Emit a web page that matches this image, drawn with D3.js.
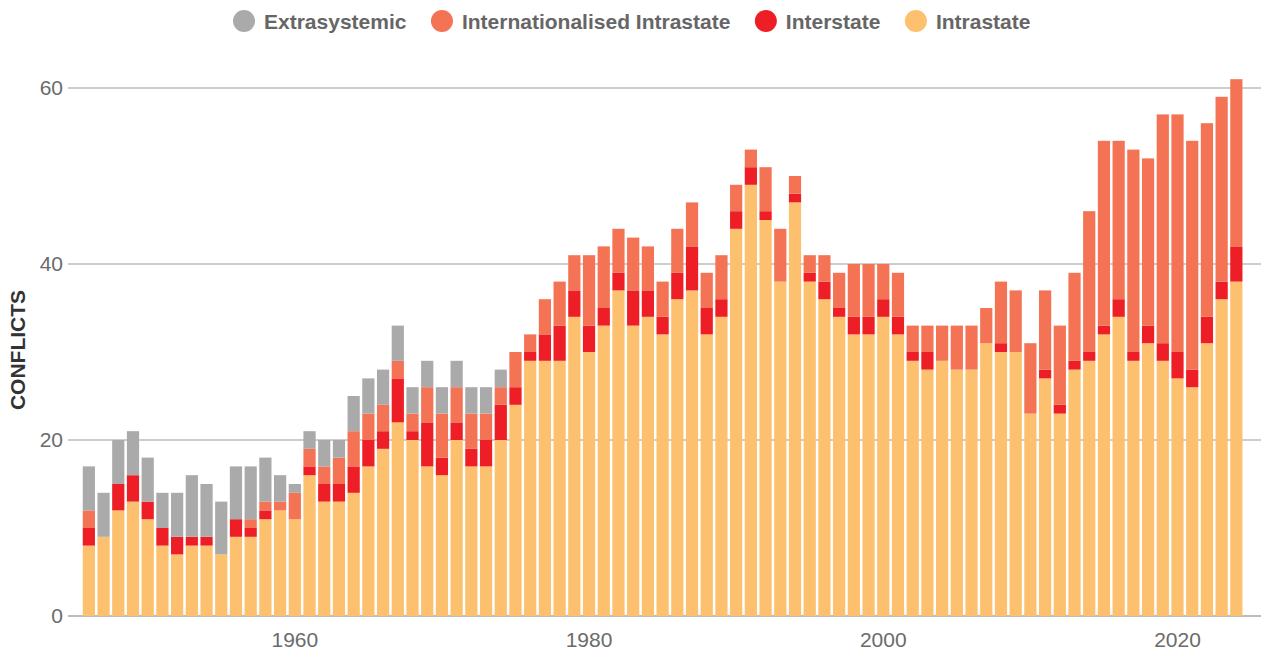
<!DOCTYPE html>
<html>
<head>
<meta charset="utf-8">
<script src="https://cdn.jsdelivr.net/npm/d3@7/dist/d3.min.js"></script>
<style>
  html, body { margin: 0; padding: 0; background: #fff; }
  svg { display: block; font-family: "Liberation Sans", Arial, Helvetica, sans-serif; }
</style>
</head>
<body>
<svg id="chart" width="1261" height="650"></svg>
<script>
// Armed conflicts per year by type, 1946–2024
const years = d3.range(1946, 2025);

const intrastate = [
  8, 9, 12, 13, 11, 8, 7, 8, 8, 7, 9, 9, 11, 12, 11,
  16, 13, 13, 14, 17, 19, 22, 20, 17, 16, 20, 17, 17, 20, 24,
  29, 29, 29, 34, 30, 33, 37, 33, 34, 32, 36, 37, 32, 34, 44,
  49, 45, 38, 47, 38, 36, 34, 32, 32, 34, 32, 29, 28, 29, 28,
  28, 31, 30, 30, 23, 27, 23, 28, 29, 32, 34, 29, 31, 29, 27,
  26, 31, 36, 38
];

const interstate = [
  2, 0, 3, 3, 2, 2, 2, 1, 1, 0, 2, 1, 1, 0, 0,
  1, 2, 2, 3, 3, 2, 5, 1, 5, 2, 2, 2, 3, 4, 2,
  1, 3, 4, 3, 3, 2, 2, 4, 3, 2, 3, 5, 3, 2, 2,
  2, 1, 0, 1, 1, 2, 1, 2, 2, 2, 2, 1, 2, 0, 0,
  0, 0, 1, 0, 0, 1, 1, 1, 1, 1, 2, 1, 2, 2, 3,
  2, 3, 2, 4
];

const internationalised = [
  2, 0, 0, 0, 0, 0, 0, 0, 0, 0, 0, 1, 1, 1, 3,
  2, 2, 3, 4, 3, 3, 2, 2, 4, 5, 4, 4, 3, 2, 4,
  2, 4, 5, 4, 8, 7, 5, 6, 5, 4, 5, 5, 4, 5, 3,
  2, 5, 6, 2, 2, 3, 4, 6, 6, 4, 5, 3, 3, 4, 5,
  5, 4, 7, 7, 8, 9, 9, 10, 16, 21, 18, 23, 19, 26, 27,
  26, 22, 21, 19
];

const extrasystemic = [
  5, 5, 5, 5, 5, 4, 5, 7, 6, 6, 6, 6, 5, 3, 1,
  2, 3, 2, 4, 4, 4, 4, 3, 3, 3, 3, 3, 3, 2, 0,
  0, 0, 0, 0, 0, 0, 0, 0, 0, 0, 0, 0, 0, 0, 0,
  0, 0, 0, 0, 0, 0, 0, 0, 0, 0, 0, 0, 0, 0, 0,
  0, 0, 0, 0, 0, 0, 0, 0, 0, 0, 0, 0, 0, 0, 0,
  0, 0, 0, 0
];

const yTicks = [0, 20, 40, 60];
const xTicks = [1960, 1980, 2000, 2020];

// Series in stacking order, bottom to top
const series = [
  { key: "Intrastate", values: intrastate, color: "#fcc06e" },
  { key: "Interstate", values: interstate, color: "#ed1e25" },
  { key: "Internationalised Intrastate", values: internationalised, color: "#f37354" },
  { key: "Extrasystemic", values: extrasystemic, color: "#aaaaaa" }
];
const legendOrder = ["Extrasystemic", "Internationalised Intrastate", "Interstate", "Intrastate"];

const table = years.map((yr, i) => {
  const row = { year: yr };
  series.forEach(s => { row[s.key] = s.values[i]; });
  return row;
});

const svg = d3.select("#chart");
const plotLeft = 68, plotRight = 1261;

const x = d3.scaleBand()
  .domain(years)
  .range([81.5, 1243.7])
  .paddingInner(0.17)
  .paddingOuter(0.085);

const y = d3.scaleLinear().domain([0, 60]).range([616, 88]);

// Horizontal gridlines
svg.append("g")
  .selectAll("line")
  .data(yTicks)
  .join("line")
  .attr("x1", plotLeft).attr("x2", plotRight)
  .attr("y1", d => y(d)).attr("y2", d => y(d))
  .attr("stroke", d => d === 0 ? "#a6a6a6" : "#bcbcbc")
  .attr("stroke-width", 1.4);

// Stacked bars
const stack = d3.stack().keys(series.map(s => s.key));
const stacked = stack(table);
const colorOf = Object.fromEntries(series.map(s => [s.key, s.color]));

svg.append("g")
  .selectAll("g")
  .data(stacked)
  .join("g")
  .attr("fill", d => colorOf[d.key])
  .selectAll("rect")
  .data(d => d.filter(p => p[1] > p[0]))
  .join("rect")
  .attr("x", d => x(d.data.year))
  .attr("width", x.bandwidth())
  .attr("y", d => y(d[1]))
  .attr("height", d => y(d[0]) - y(d[1]));

// Y axis labels
const yAxis = svg.append("g")
  .attr("transform", `translate(${plotLeft},0)`)
  .call(d3.axisLeft(y).tickValues(yTicks).tickSize(0).tickPadding(5));
yAxis.select(".domain").remove();
yAxis.selectAll("text")
  .attr("fill", "#6b6b6b")
  .style("font-size", "21px")
  .style("font-family", "'Liberation Sans', Arial, sans-serif");

// X axis labels
const xAxis = svg.append("g")
  .attr("transform", "translate(0,616)")
  .call(d3.axisBottom(x).tickValues(xTicks).tickSize(0).tickPadding(16));
xAxis.select(".domain").remove();
xAxis.selectAll("text")
  .attr("fill", "#6b6b6b")
  .style("font-size", "21px")
  .style("font-family", "'Liberation Sans', Arial, sans-serif");

// Y axis title
svg.append("text")
  .attr("transform", "translate(24.5,350) rotate(-90)")
  .attr("text-anchor", "middle")
  .attr("fill", "#333")
  .style("font-size", "21px")
  .style("font-weight", "bold")
  .text("CONFLICTS");

// Legend
const legend = svg.append("g");
let lx = 244;
legendOrder.forEach(k => {
  legend.append("circle")
    .attr("cx", lx).attr("cy", 21).attr("r", 11)
    .attr("fill", colorOf[k]);
  const t = legend.append("text")
    .attr("x", lx + 20).attr("y", 28.5)
    .attr("fill", "#666")
    .style("font-size", "21px")
    .style("font-weight", "bold")
    .text(k);
  const w = t.node().getComputedTextLength();
  lx = lx + 20 + w + 35.5;
});
</script>
</body>
</html>
